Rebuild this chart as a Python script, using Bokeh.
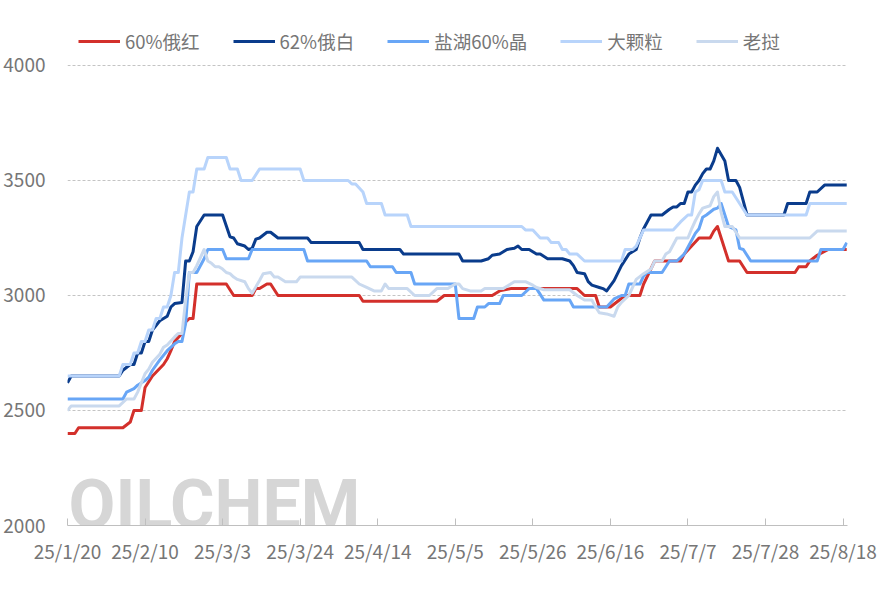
import pandas as pd
from bokeh.plotting import figure
from bokeh.models import ColumnDataSource, Legend, LegendItem, FixedTicker, Range1d, Label
from bokeh.embed import file_html
from bokeh.resources import INLINE

# ---------------- data ----------------
series_names = ["60%俄红", "62%俄白", "盐湖60%晶", "大颗粒", "老挝"]
series_colors = ["#d3302b", "#0a3c8c", "#68a6f6", "#b8d4fb", "#c9d9ee"]

red_dates = ["2025-01-20", "2025-01-22", "2025-01-23", "2025-02-04", "2025-02-06", "2025-02-07", "2025-02-09",
             "2025-02-10", "2025-02-12", "2025-02-15", "2025-02-16", "2025-02-17", "2025-02-18", "2025-02-20",
             "2025-02-21", "2025-02-22", "2025-02-23", "2025-02-24", "2025-03-04", "2025-03-06", "2025-03-11",
             "2025-03-12", "2025-03-13", "2025-03-15", "2025-03-16", "2025-03-18", "2025-04-09", "2025-04-10",
             "2025-04-30", "2025-05-02", "2025-05-15", "2025-05-17", "2025-05-20", "2025-06-07", "2025-06-09",
             "2025-06-12", "2025-06-13", "2025-06-16", "2025-06-18", "2025-06-20", "2025-06-24", "2025-06-25",
             "2025-06-28", "2025-07-05", "2025-07-06", "2025-07-10", "2025-07-13", "2025-07-14", "2025-07-15",
             "2025-07-18", "2025-07-21", "2025-07-23", "2025-08-05", "2025-08-06", "2025-08-08", "2025-08-09",
             "2025-08-11", "2025-08-14", "2025-08-19"]
red_vals = [2400, 2400, 2425, 2425, 2450, 2500, 2500,
            2600, 2650, 2700, 2725, 2760, 2800, 2835,
            2885, 2900, 2900, 3050, 3050, 3000, 3000,
            3030, 3030, 3050, 3050, 3000, 3000, 2975,
            2975, 3000, 3000, 3020, 3030, 3030, 3000,
            3000, 2950, 2950, 2975, 3000, 3000, 3050,
            3150, 3150, 3180, 3250, 3250, 3280, 3300,
            3150, 3150, 3100, 3100, 3125, 3125, 3150,
            3175, 3200, 3200]

navy_dates = ["2025-01-20", "2025-01-21", "2025-02-03", "2025-02-04", "2025-02-06", "2025-02-07", "2025-02-08",
              "2025-02-09", "2025-02-10", "2025-02-11", "2025-02-12", "2025-02-14", "2025-02-15", "2025-02-16",
              "2025-02-17", "2025-02-18", "2025-02-20", "2025-02-21", "2025-02-22", "2025-02-23", "2025-02-24",
              "2025-02-26", "2025-03-03", "2025-03-05", "2025-03-06", "2025-03-07", "2025-03-09", "2025-03-10",
              "2025-03-11", "2025-03-12", "2025-03-13", "2025-03-15", "2025-03-16", "2025-03-18", "2025-03-26",
              "2025-03-27", "2025-04-09", "2025-04-10", "2025-04-20", "2025-04-21", "2025-05-06", "2025-05-07",
              "2025-05-12", "2025-05-14", "2025-05-15", "2025-05-17", "2025-05-19", "2025-05-21", "2025-05-22",
              "2025-05-23", "2025-05-25", "2025-05-27", "2025-05-28", "2025-05-30", "2025-06-03", "2025-06-05",
              "2025-06-06", "2025-06-07", "2025-06-09", "2025-06-10", "2025-06-11", "2025-06-13", "2025-06-14",
              "2025-06-15", "2025-06-17", "2025-06-19", "2025-06-21", "2025-06-22", "2025-06-23", "2025-06-24",
              "2025-06-25", "2025-06-27", "2025-06-30", "2025-07-02", "2025-07-03", "2025-07-04", "2025-07-05",
              "2025-07-06", "2025-07-07", "2025-07-08", "2025-07-09", "2025-07-10", "2025-07-11", "2025-07-12",
              "2025-07-13", "2025-07-14", "2025-07-15", "2025-07-17", "2025-07-18", "2025-07-20", "2025-07-21",
              "2025-07-23", "2025-08-02", "2025-08-03", "2025-08-08", "2025-08-09", "2025-08-11", "2025-08-13",
              "2025-08-19"]
navy_vals = [2620, 2650, 2650, 2675, 2700, 2700, 2750,
             2750, 2800, 2800, 2850, 2890, 2900, 2910,
             2950, 2965, 2970, 3150, 3150, 3190, 3300,
             3350, 3350, 3255, 3250, 3225, 3215, 3200,
             3205, 3245, 3250, 3275, 3275, 3250, 3250,
             3230, 3230, 3200, 3200, 3180, 3180, 3150,
             3150, 3160, 3175, 3180, 3200, 3205, 3215,
             3200, 3200, 3180, 3180, 3160, 3160, 3150,
             3130, 3100, 3095, 3060, 3045, 3035, 3030,
             3020, 3065, 3130, 3180, 3190, 3200, 3250,
             3290, 3350, 3350, 3375, 3385, 3385, 3400,
             3400, 3450, 3450, 3480, 3500, 3530, 3550,
             3550, 3585, 3640, 3585, 3500, 3500, 3470,
             3350, 3350, 3400, 3400, 3450, 3450, 3480,
             3480]

salt_dates = ["2025-01-20", "2025-02-04", "2025-02-05", "2025-02-07", "2025-02-08", "2025-02-10", "2025-02-11",
              "2025-02-12", "2025-02-14", "2025-02-16", "2025-02-18", "2025-02-19", "2025-02-20", "2025-02-21",
              "2025-02-22", "2025-02-24", "2025-02-26", "2025-02-27", "2025-03-03", "2025-03-04", "2025-03-10",
              "2025-03-11", "2025-03-25", "2025-03-26", "2025-04-11", "2025-04-12", "2025-04-18", "2025-04-19",
              "2025-04-23", "2025-04-24", "2025-05-05", "2025-05-06", "2025-05-10", "2025-05-11", "2025-05-13",
              "2025-05-14", "2025-05-17", "2025-05-18", "2025-05-23", "2025-05-25", "2025-05-27", "2025-05-29",
              "2025-06-05", "2025-06-06", "2025-06-15", "2025-06-17", "2025-06-19", "2025-06-20", "2025-06-21",
              "2025-06-24", "2025-06-25", "2025-06-26", "2025-06-30", "2025-07-02", "2025-07-04", "2025-07-06",
              "2025-07-07", "2025-07-09", "2025-07-10", "2025-07-11", "2025-07-12", "2025-07-14", "2025-07-15",
              "2025-07-16", "2025-07-18", "2025-07-20", "2025-07-21", "2025-07-22", "2025-07-24", "2025-08-11",
              "2025-08-12", "2025-08-18", "2025-08-19"]
salt_vals = [2550, 2550, 2580, 2595, 2610, 2630, 2645,
             2675, 2720, 2760, 2790, 2800, 2800, 2880,
             3100, 3100, 3160, 3200, 3200, 3160, 3160,
             3200, 3200, 3150, 3150, 3125, 3125, 3100,
             3100, 3050, 3050, 2900, 2900, 2950, 2950,
             2965, 2965, 3000, 3000, 3030, 3030, 2980,
             2980, 2950, 2950, 2985, 3000, 3000, 3050,
             3050, 3085, 3100, 3100, 3150, 3150, 3180,
             3210, 3270, 3290, 3340, 3350, 3375, 3380,
             3400, 3300, 3285, 3205, 3200, 3150, 3150,
             3200, 3200, 3230]

big_dates = ["2025-01-20", "2025-02-03", "2025-02-04", "2025-02-06", "2025-02-07", "2025-02-08", "2025-02-09",
             "2025-02-10", "2025-02-11", "2025-02-12", "2025-02-13", "2025-02-14", "2025-02-15", "2025-02-16",
             "2025-02-17", "2025-02-18", "2025-02-19", "2025-02-20", "2025-02-22", "2025-02-23", "2025-02-24",
             "2025-02-26", "2025-02-27", "2025-03-04", "2025-03-05", "2025-03-07", "2025-03-08", "2025-03-11",
             "2025-03-13", "2025-03-24", "2025-03-25", "2025-04-06", "2025-04-07", "2025-04-08", "2025-04-10",
             "2025-04-11", "2025-04-15", "2025-04-16", "2025-04-22", "2025-04-23", "2025-05-23", "2025-05-24",
             "2025-05-26", "2025-05-28", "2025-05-30", "2025-05-31", "2025-06-02", "2025-06-03", "2025-06-04",
             "2025-06-05", "2025-06-07", "2025-06-09", "2025-06-19", "2025-06-20", "2025-06-22", "2025-06-23",
             "2025-06-24", "2025-06-25", "2025-07-03", "2025-07-05", "2025-07-07", "2025-07-08", "2025-07-09",
             "2025-07-10", "2025-07-11", "2025-07-16", "2025-07-17", "2025-07-19", "2025-07-21", "2025-07-23",
             "2025-08-08", "2025-08-09", "2025-08-19"]
big_vals = [2650, 2650, 2700, 2700, 2750, 2750, 2800,
            2800, 2850, 2850, 2900, 2900, 2950, 2950,
            3000, 3100, 3100, 3250, 3450, 3450, 3550,
            3550, 3600, 3600, 3550, 3550, 3500, 3500,
            3550, 3550, 3500, 3500, 3485, 3485, 3450,
            3400, 3400, 3350, 3350, 3300, 3300, 3285,
            3285, 3250, 3250, 3230, 3230, 3200, 3200,
            3180, 3180, 3150, 3150, 3200, 3200, 3215,
            3250, 3285, 3285, 3320, 3350, 3350, 3450,
            3460, 3500, 3500, 3450, 3450, 3400, 3350,
            3350, 3400, 3400]

laos_dates = ["2025-01-20", "2025-01-21", "2025-02-03", "2025-02-05", "2025-02-07", "2025-02-08", "2025-02-09",
              "2025-02-10", "2025-02-11", "2025-02-12", "2025-02-14", "2025-02-15", "2025-02-16", "2025-02-18",
              "2025-02-19", "2025-02-20", "2025-02-21", "2025-02-22", "2025-02-23", "2025-02-24", "2025-02-26",
              "2025-02-27", "2025-02-28", "2025-03-01", "2025-03-02", "2025-03-03", "2025-03-04", "2025-03-05",
              "2025-03-06", "2025-03-07", "2025-03-09", "2025-03-10", "2025-03-11", "2025-03-13", "2025-03-14",
              "2025-03-16", "2025-03-17", "2025-03-18", "2025-03-20", "2025-03-23", "2025-03-24", "2025-04-07",
              "2025-04-09", "2025-04-11", "2025-04-13", "2025-04-15", "2025-04-16", "2025-04-17", "2025-04-22",
              "2025-04-24", "2025-04-28", "2025-04-30", "2025-05-03", "2025-05-05", "2025-05-06", "2025-05-07",
              "2025-05-09", "2025-05-12", "2025-05-13", "2025-05-18", "2025-05-20", "2025-05-21", "2025-05-24",
              "2025-05-26", "2025-05-27", "2025-05-29", "2025-06-05", "2025-06-07", "2025-06-09", "2025-06-11",
              "2025-06-12", "2025-06-13", "2025-06-15", "2025-06-17", "2025-06-18", "2025-06-19", "2025-06-21",
              "2025-06-23", "2025-06-25", "2025-06-27", "2025-06-28", "2025-06-30", "2025-07-01", "2025-07-02",
              "2025-07-04", "2025-07-07", "2025-07-08", "2025-07-09", "2025-07-10", "2025-07-11", "2025-07-13",
              "2025-07-14", "2025-07-15", "2025-07-16", "2025-07-17", "2025-07-19", "2025-07-21", "2025-08-09",
              "2025-08-11", "2025-08-19"]
laos_vals = [2500, 2520, 2520, 2550, 2550, 2580, 2620,
             2660, 2680, 2710, 2745, 2775, 2785, 2820,
             2835, 2835, 2980, 3100, 3100, 3130, 3200,
             3150, 3140, 3125, 3125, 3115, 3100, 3095,
             3080, 3070, 3060, 3030, 3010, 3065, 3095,
             3100, 3080, 3080, 3060, 3060, 3080, 3080,
             3050, 3035, 3020, 3020, 3050, 3030, 3030,
             3000, 3000, 3030, 3030, 3050, 3050, 3030,
             3020, 3020, 3030, 3030, 3050, 3060, 3060,
             3045, 3035, 3025, 3025, 3000, 2980, 2980,
             2950, 2925, 2920, 2910, 2950, 2970, 3000,
             3070, 3095, 3115, 3150, 3150, 3180, 3190,
             3250, 3250, 3290, 3325, 3355, 3380, 3390,
             3430, 3450, 3360, 3300, 3300, 3250, 3250,
             3280, 3280]

tick_dates = ["2025-01-20", "2025-02-10", "2025-03-03", "2025-03-24", "2025-04-14", "2025-05-05",
              "2025-05-26", "2025-06-16", "2025-07-07", "2025-07-28", "2025-08-18"]
tick_labels = ["25/1/20", "25/2/10", "25/3/3", "25/3/24", "25/4/14", "25/5/5",
               "25/5/26", "25/6/16", "25/7/7", "25/7/28", "25/8/18"]
y_ticks = [2000, 2500, 3000, 3500, 4000]

all_dates = [red_dates, navy_dates, salt_dates, big_dates, laos_dates]
all_vals = [red_vals, navy_vals, salt_vals, big_vals, laos_vals]

# ---------------- figure ----------------
FONT = "Noto Sans CJK SC"
TXT = "#767676"
X0 = pd.Timestamp("2025-01-20")
X1 = pd.Timestamp("2025-08-19 05:00")
# frame extended above 4000 to leave room for the legend inside it
p = figure(x_axis_type="datetime", output_backend="svg", toolbar_location=None,
           width=884, height=588,
           min_border_left=67, min_border_right=37, min_border_top=24, min_border_bottom=63,
           x_range=Range1d(X0, X1), y_range=Range1d(2000, 4178.26))
p.outline_line_color = None
p.background_fill_color = "white"
p.border_fill_color = "white"

wm = Label(x=X0.value / 1e6 + 0.3 * 86400000, y=2087, x_units="data", y_units="data", text="OILCHEM",
           text_font="Roboto", text_font_style="bold", text_font_size="68px",
           text_color="#d6d6d6", text_baseline="alphabetic", level="underlay")
p.add_layout(wm)

renderers = []
for d, v, c in zip(all_dates, all_vals, series_colors):
    src = ColumnDataSource(dict(x=pd.to_datetime(d), y=v))
    r = p.line("x", "y", source=src, line_color=c, line_width=3, line_join="round")
    renderers.append(r)

tick_ms = [int(pd.Timestamp(t).value // 10**6) for t in tick_dates]
xa = p.xaxis[0]
xa.ticker = FixedTicker(ticks=tick_ms)
xa.major_label_overrides = {m: l for m, l in zip(tick_ms, tick_labels)}
xa.axis_line_color = "#bfbfbf"
xa.major_tick_line_color = "#bfbfbf"
xa.major_tick_in = 7
xa.major_tick_out = 0
xa.minor_tick_line_color = None
xa.major_label_text_font = FONT
xa.major_label_text_font_size = "19px"
xa.major_label_text_color = TXT
xa.major_label_standoff = 11

ya = p.yaxis[0]
ya.ticker = FixedTicker(ticks=y_ticks)
ya.axis_line_color = None
ya.major_tick_line_color = None
ya.minor_tick_line_color = None
ya.major_tick_out = 0
ya.major_tick_in = 0
ya.major_label_text_font = FONT
ya.major_label_text_font_size = "19px"
ya.major_label_text_color = TXT
ya.major_label_standoff = 22

p.xgrid.grid_line_color = None
p.ygrid.ticker = FixedTicker(ticks=y_ticks)
p.ygrid.grid_line_color = "#c4c4c4"
p.ygrid.grid_line_dash = "3 2"
p.ygrid.grid_line_width = 1

legend = Legend(items=[LegendItem(label=n, renderers=[r]) for n, r in zip(series_names, renderers)],
                orientation="horizontal", location=(11, 471),
                glyph_width=42, glyph_height=20, label_standoff=5, spacing=33,
                padding=0, margin=0, border_line_color=None, background_fill_alpha=0,
                label_text_font=FONT, label_text_font_size="18.5px", label_text_color=TXT)
p.add_layout(legend)

open("out.html", "w").write(file_html(p, INLINE))
